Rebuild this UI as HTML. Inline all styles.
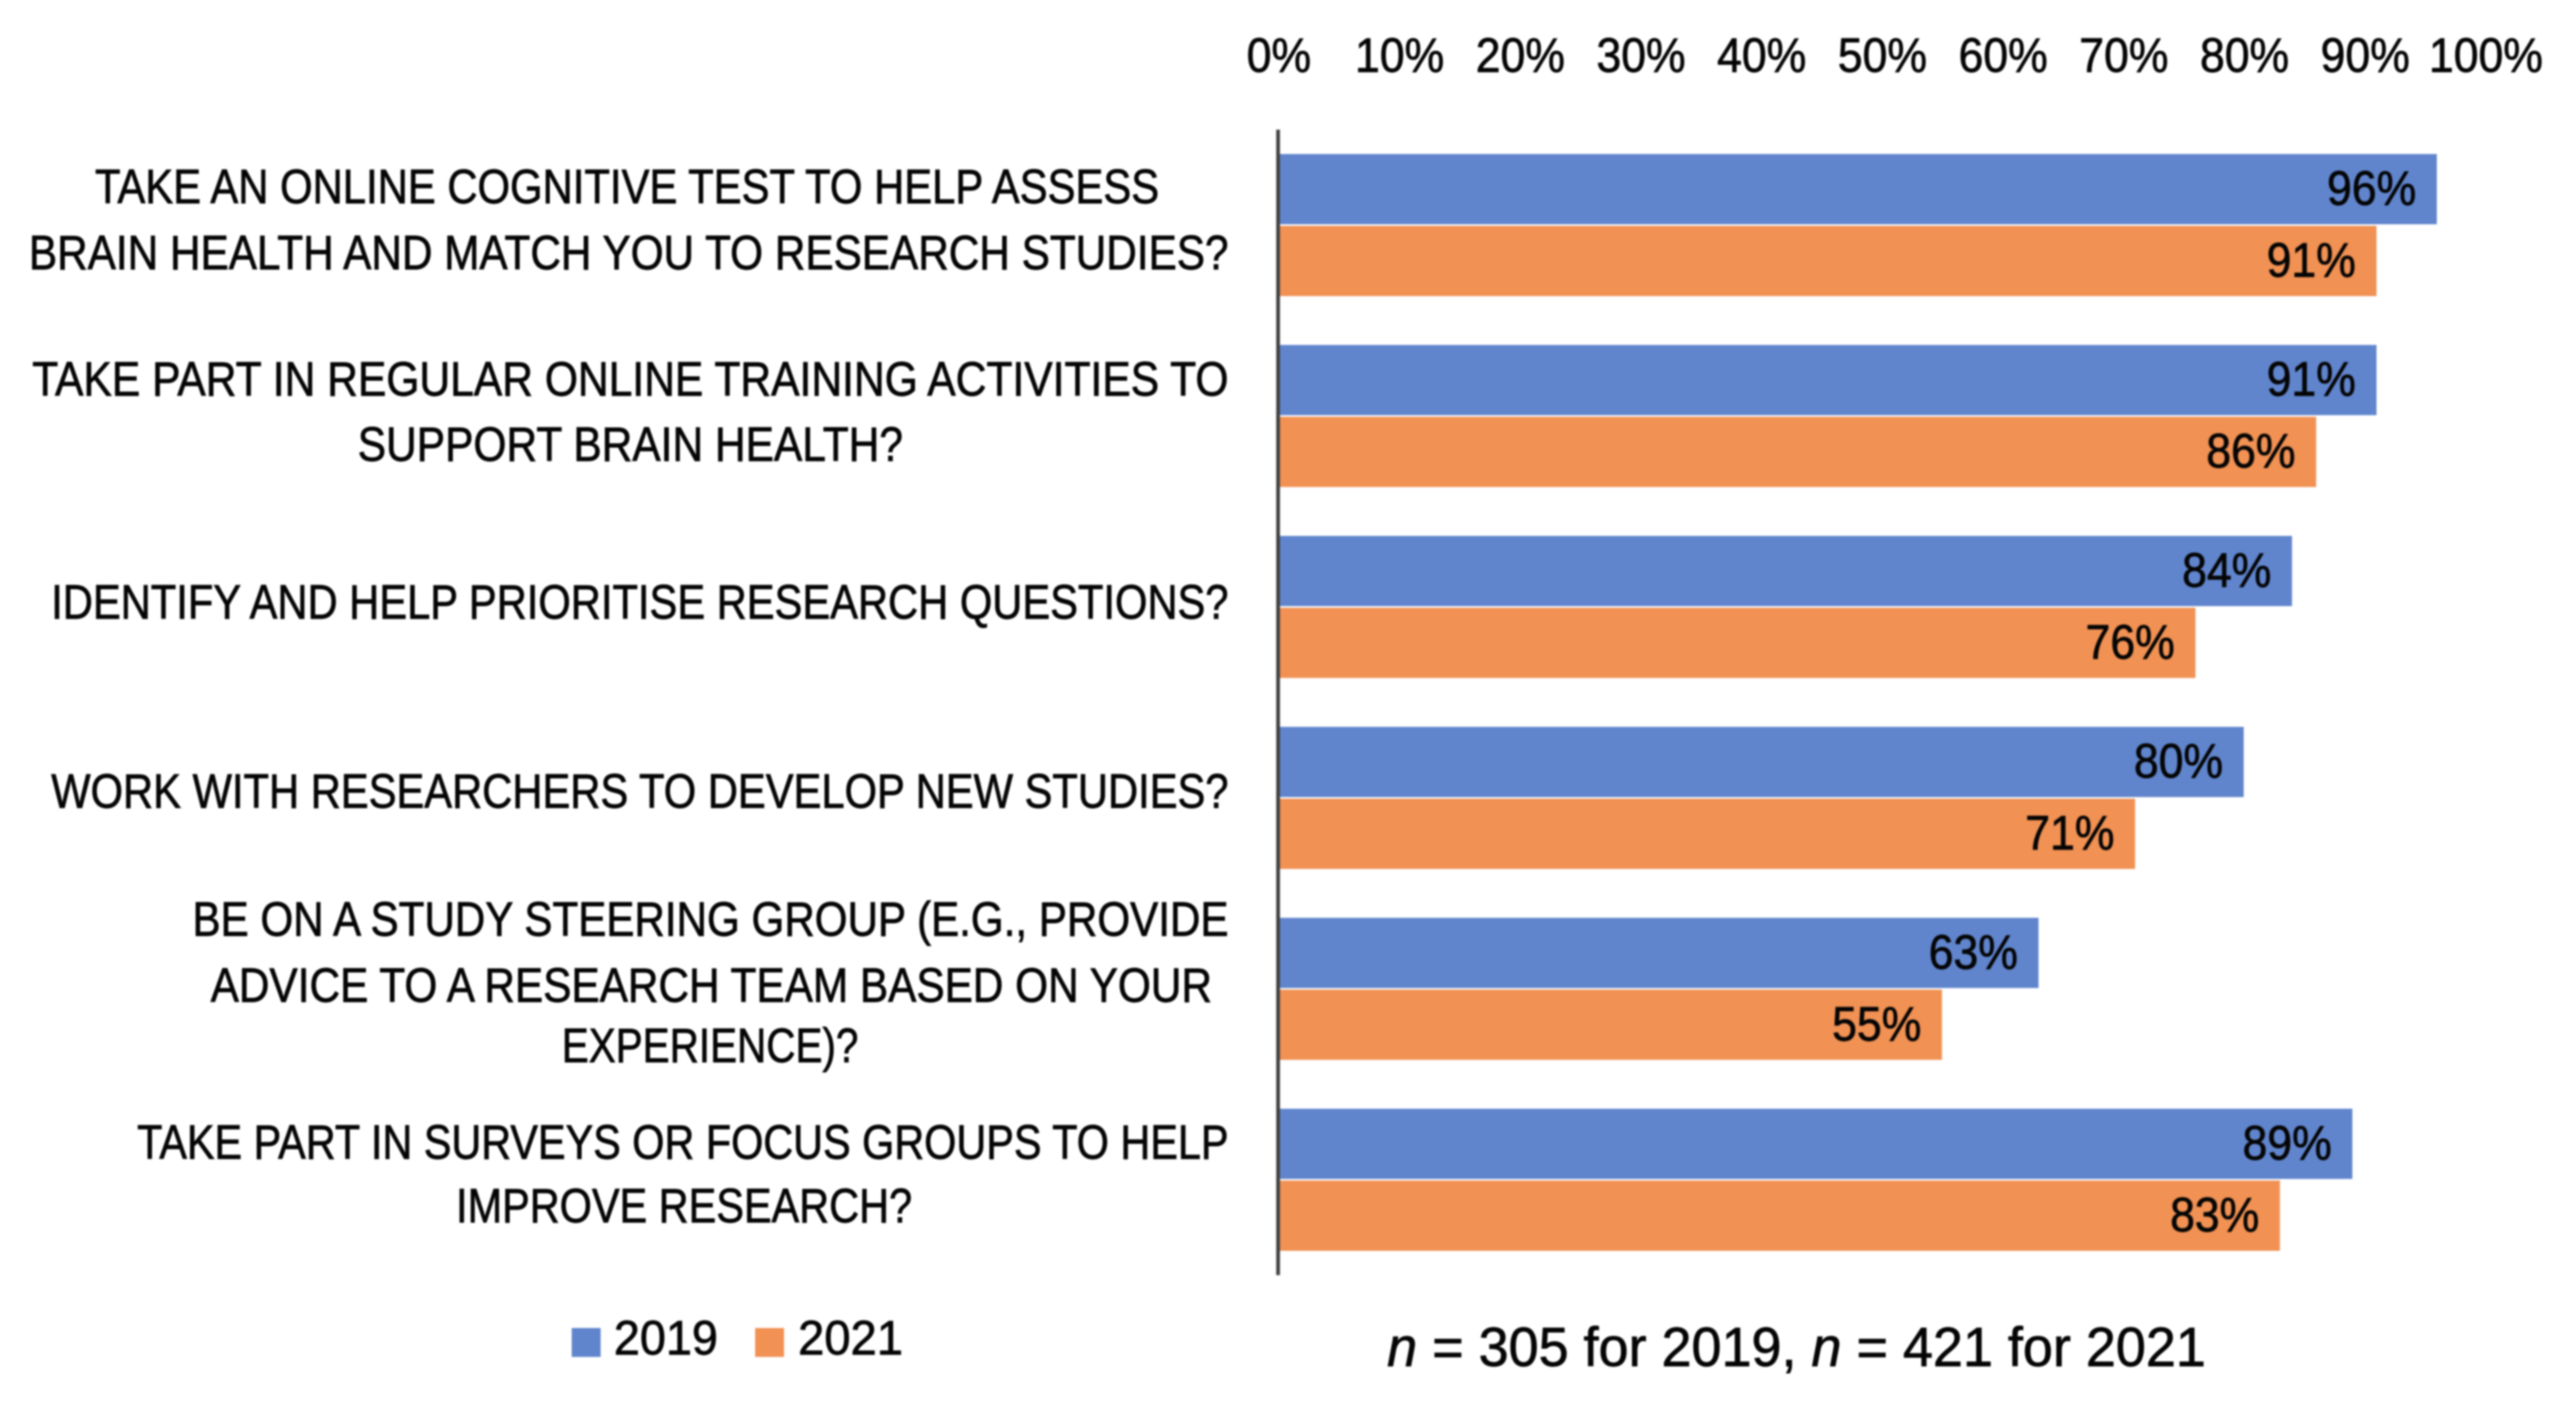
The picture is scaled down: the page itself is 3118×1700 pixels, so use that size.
<!DOCTYPE html>
<html lang="en">
<head>
<meta charset="utf-8">
<title>Willingness to take part in research activities, 2019 vs 2021</title>
<style>
html,body{margin:0;padding:0;background:#fff;width:3118px;height:1700px;overflow:hidden}
svg{display:block;filter:blur(1px)}
text{font-family:"Liberation Sans",sans-serif;fill:#050505;stroke:#050505;stroke-width:0.9px}
.cat{font-size:58px}
.tick{font-size:58px;text-anchor:middle}
.val{font-size:58px;text-anchor:end}
.leg{font-size:58px}
.note{font-size:67px}
</style>
</head>
<body>
<svg id="chart" xmlns="http://www.w3.org/2000/svg" width="3118" height="1700" viewBox="0 0 3118 1700">
  <rect x="0" y="0" width="3118" height="1700" fill="#ffffff"/>
  <g id="x-axis"></g>
  <g id="bars"></g>
  <g>
    <text class="cat" x="115" y="246" textLength="1288" lengthAdjust="spacingAndGlyphs">TAKE AN ONLINE COGNITIVE TEST TO HELP ASSESS</text>
    <text class="cat" x="35" y="326" textLength="1452" lengthAdjust="spacingAndGlyphs">BRAIN HEALTH AND MATCH YOU TO RESEARCH STUDIES?</text>
    <text class="cat" x="39" y="479" textLength="1448" lengthAdjust="spacingAndGlyphs">TAKE PART IN REGULAR ONLINE TRAINING ACTIVITIES TO</text>
    <text class="cat" x="433" y="558" textLength="660" lengthAdjust="spacingAndGlyphs">SUPPORT BRAIN HEALTH?</text>
    <text class="cat" x="62" y="749" textLength="1425" lengthAdjust="spacingAndGlyphs">IDENTIFY AND HELP PRIORITISE RESEARCH QUESTIONS?</text>
    <text class="cat" x="62" y="978" textLength="1425" lengthAdjust="spacingAndGlyphs">WORK WITH RESEARCHERS TO DEVELOP NEW STUDIES?</text>
    <text class="cat" x="233" y="1133" textLength="1254" lengthAdjust="spacingAndGlyphs">BE ON A STUDY STEERING GROUP (E.G., PROVIDE</text>
    <text class="cat" x="255" y="1213" textLength="1212" lengthAdjust="spacingAndGlyphs">ADVICE TO A RESEARCH TEAM BASED ON YOUR</text>
    <text class="cat" x="680" y="1286" textLength="359" lengthAdjust="spacingAndGlyphs">EXPERIENCE)?</text>
    <text class="cat" x="166" y="1403" textLength="1321" lengthAdjust="spacingAndGlyphs">TAKE PART IN SURVEYS OR FOCUS GROUPS TO HELP</text>
    <text class="cat" x="552" y="1480" textLength="552" lengthAdjust="spacingAndGlyphs">IMPROVE RESEARCH?</text>
  </g>
  <g>
    <rect x="692" y="1608" width="35" height="35" fill="#6085cd"/>
    <text class="leg" x="743" y="1640" textLength="126" lengthAdjust="spacingAndGlyphs">2019</text>
    <rect x="914" y="1608" width="35" height="35" fill="#f19153"/>
    <text class="leg" x="966" y="1640" textLength="127" lengthAdjust="spacingAndGlyphs">2021</text>
  </g>
  <text class="note" x="1679" y="1654" textLength="991" lengthAdjust="spacingAndGlyphs"><tspan font-style="italic">n</tspan> = 305 for 2019, <tspan font-style="italic">n</tspan> = 421 for 2021</text>
</svg>
<script>
const categories = ["Cognitive test", "Online training", "Prioritise questions", "Develop studies", "Steering group", "Surveys or focus groups"];
const values2019 = [96, 91, 84, 80, 63, 89];
const values2021 = [91, 86, 76, 71, 55, 83];
const tickValues = [0, 10, 20, 30, 40, 50, 60, 70, 80, 90, 100];

const NS = "http://www.w3.org/2000/svg";
const xScale = function (v) { return 1547 + v * 14.61; };
const bandTop = function (i) { return 186.5 + i * 231.2; };
const barHeight = 85;
const seriesGap = 2;
const condensedWidth = function (label) {
  const digits = label.length - 1;
  return (digits * 0.556 + 0.889) * 58 * 0.93;
};

const axisGroup = document.getElementById("x-axis");
const barGroup = document.getElementById("bars");

tickValues.forEach(function (t) {
  const label = document.createElementNS(NS, "text");
  
  
  label.setAttribute("class", "tick");
  label.setAttribute("x", xScale(t) + 1);
  label.setAttribute("y", 87);
  label.setAttribute("textLength", condensedWidth(t + "%"));
  label.setAttribute("lengthAdjust", "spacingAndGlyphs");
  label.textContent = t + "%";
  axisGroup.appendChild(label);
});

function drawBar(value, top, color, year) {
  const bar = document.createElementNS(NS, "rect");
  
  
  bar.setAttribute("x", xScale(0));
  bar.setAttribute("y", top);
  bar.setAttribute("width", xScale(value) - xScale(0));
  bar.setAttribute("height", barHeight);
  bar.setAttribute("fill", color);
  barGroup.appendChild(bar);

  const label = document.createElementNS(NS, "text");
  
  
  label.setAttribute("class", "val");
  label.setAttribute("x", xScale(value) - 25);
  label.setAttribute("y", top + barHeight / 2 + 19);
  label.setAttribute("textLength", condensedWidth(value + "%"));
  label.setAttribute("lengthAdjust", "spacingAndGlyphs");
  label.textContent = value + "%";
  barGroup.appendChild(label);
}

categories.forEach(function (c, i) {
  const top = bandTop(i);
  drawBar(values2019[i], top, "#6085cd", "2019");
  drawBar(values2021[i], top + barHeight + seriesGap, "#f19153", "2021");
});

const axisLine = document.createElementNS(NS, "line");


axisLine.setAttribute("x1", xScale(0));
axisLine.setAttribute("x2", xScale(0));
axisLine.setAttribute("y1", 157);
axisLine.setAttribute("y2", 1544);
axisLine.setAttribute("stroke", "#404040");
axisLine.setAttribute("stroke-width", 4.5);
axisGroup.appendChild(axisLine);
barGroup.parentNode.appendChild(axisGroup);
</script>
</body>
</html>
